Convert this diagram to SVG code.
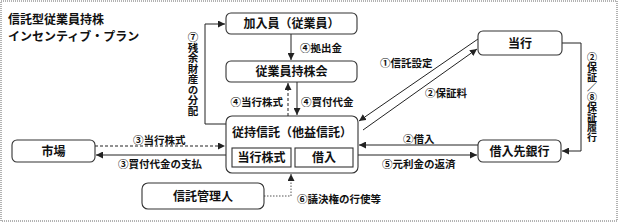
<svg xmlns="http://www.w3.org/2000/svg" width="618" height="222" viewBox="0 0 618 222">
<style>
text{font-family:"Noto Sans CJK JP","Noto Sans CJK SC",sans-serif;fill:#111;font-weight:bold}
.t{font-size:12px}
.n{font-size:12px;text-anchor:middle}
.l{font-size:10.5px}
.v{font-size:10.5px;writing-mode:vertical-rl;text-orientation:upright}
.box{fill:#fff;stroke:#333;stroke-width:1.1}
.in{fill:#fff;stroke:#333;stroke-width:1.1}
.c{fill:none;stroke:#222;stroke-width:1}
.d{stroke-dasharray:3,2}
.dt{stroke-dasharray:1.5,1.5;stroke:#555}
</style>
<defs>
<marker id="a" viewBox="0 0 10 10" refX="10" refY="5" markerWidth="7" markerHeight="7" markerUnits="userSpaceOnUse" orient="auto"><path d="M0,0L10,5L0,10z" fill="#222"/></marker>
</defs>
<rect x="1" y="1" width="616" height="220" fill="none" stroke="#666" stroke-dasharray="1,1"/>
<text class="t" x="8" y="24">信託型従業員持株</text>
<text class="t" x="8" y="41">インセンティブ・プラン</text>
<g id="connectors">
<line class="c" x1="291" y1="34" x2="291" y2="60" marker-end="url(#a)"/>
<line class="c d" x1="288" y1="116" x2="288" y2="83" marker-end="url(#a)"/>
<line class="c" x1="297" y1="82" x2="297" y2="115" marker-end="url(#a)"/>
<polyline class="c" points="226,124 205,124 205,24 225,24" marker-end="url(#a)"/>
<line class="c" x1="478" y1="39" x2="359" y2="121" marker-end="url(#a)"/>
<line class="c" x1="363" y1="130" x2="477" y2="49" marker-end="url(#a)"/>
<polyline class="c" points="562,43 581,43 581,151 562,151" marker-end="url(#a)"/>
<line class="c" x1="478" y1="145" x2="359" y2="145" marker-end="url(#a)"/>
<line class="c" x1="358" y1="155" x2="477" y2="155" marker-end="url(#a)"/>
<line class="c d" x1="95" y1="146" x2="225" y2="146" marker-end="url(#a)"/>
<line class="c" x1="226" y1="155" x2="96" y2="155" marker-end="url(#a)"/>
<polyline class="c dt" points="264,196 291,196 291,174" marker-end="url(#a)"/>
<text class="l" x="300" y="52">④拠出金</text>
<text class="l" x="283" y="106" text-anchor="end">④当行株式</text>
<text class="l" x="301" y="106">④買付代金</text>
<text class="l" x="380" y="67">①信託設定</text>
<text class="l" x="425" y="97">②保証料</text>
<text class="l" x="403" y="143">②借入</text>
<text class="l" x="382" y="168">⑤元利金の返済</text>
<text class="l" x="133" y="144">③当行株式</text>
<text class="l" x="118" y="168">③買付代金の支払</text>
<text class="l" x="297" y="203">⑥議決権の行使等</text>
<text class="v" x="193" y="32">⑦残余財産の分配</text>
<text class="v" x="592" y="52" style="font-size:10px">②保証／⑧保証履行</text>
</g>
<g id="n-kanyuin"><rect class="box" x="226" y="13" width="131" height="21" rx="5"/><text class="n" x="291.5" y="28">加入員（従業員）</text></g>
<g id="n-mochikabukai"><rect class="box" x="226" y="61" width="131" height="21" rx="5"/><text class="n" x="291.5" y="76">従業員持株会</text></g>
<g id="n-toko"><rect class="box" x="478" y="31" width="84" height="24" rx="5"/><text class="n" x="520" y="47.5">当行</text></g>
<g id="n-shintaku"><rect class="box" x="226" y="116" width="132" height="57" rx="6"/><text class="n" x="292" y="137">従持信託（他益信託）</text>
<rect class="in" x="232" y="148" width="59" height="19"/><text class="n" x="261.5" y="162">当行株式</text>
<rect class="in" x="295" y="148" width="58" height="19"/><text class="n" x="324" y="162">借入</text></g>
<g id="n-shijo"><rect class="box" x="12" y="140" width="83" height="22" rx="5"/><text class="n" x="53.5" y="155.5">市場</text></g>
<g id="n-kanrinin"><rect class="box" x="142" y="183" width="122" height="26" rx="6"/><text class="n" x="203" y="200.5">信託管理人</text></g>
<g id="n-ginko"><rect class="box" x="478" y="140" width="83" height="22" rx="5"/><text class="n" x="519.5" y="155.5">借入先銀行</text></g>
</svg>
